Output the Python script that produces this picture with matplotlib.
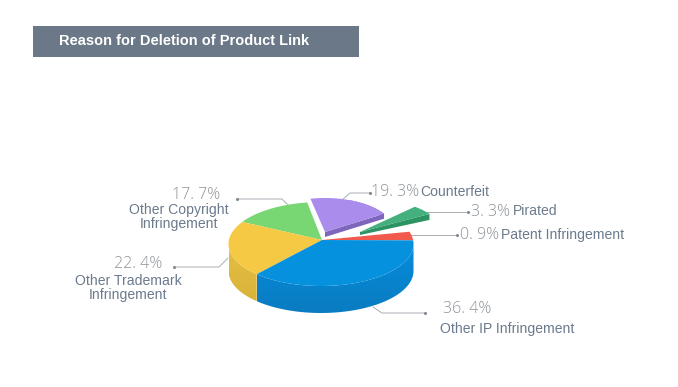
import numpy as np
import matplotlib
matplotlib.use("Agg")
import matplotlib.pyplot as plt
from matplotlib.patches import Polygon, Rectangle
from matplotlib.colors import LinearSegmentedColormap

# Data
categories = ["Other IP Infringement", "Other Trademark\nInfringement", "Other Copyright\nInfringement",
              "Counterfeit", "Pirated", "Patent Infringement"]
shares = [36.4, 22.4, 17.7, 19.3, 3.3, 0.9]
pct_labels = ["36. 4%", "22. 4%", "17. 7%", "19. 3%", "3. 3%", "0. 9%"]
title = "Reason for Deletion of Product Link"

W, H = 678, 387
fig = plt.figure(figsize=(W / 100, H / 100), dpi=100, facecolor="white")
ax = fig.add_axes([0, 0, 1, 1])
ax.axis("off")

CX, CY, RX, RY, DEPTH = 321, 244, 92.5, 42, 27
AX, AY = 322, 240  # apex of the slices on the drawn top face
top_cols = ["#0591de", "#f6c945", "#78d673", "#a98cec", "#43b07d", "#f1594c"]
side_cols = [("#058cdb", "#0a7cc2"), ("#e4bf42", "#d9b43a"), None, ("#9a80dc", "#7f66bd"), ("#36a06f", "#2c9363"), None]


def sector(cx, cy, rx, ry, a0, a1, apex=None):
    t = np.radians(np.linspace(a0, a1, 80))
    arc = np.column_stack([cx + rx * np.cos(t), cy + ry * np.sin(t)])
    return np.vstack([apex if apex is not None else [cx, cy], arc])


def wall(cx, cy, rx, ry, a0, a1, d):
    t = np.radians(np.linspace(a0, a1, 80))
    arc = np.column_stack([cx + rx * np.cos(t), cy + ry * np.sin(t)])
    return np.vstack([arc, arc[::-1] + [0, d]])


def grad_poly(xy, c0, c1, zorder):
    cmap = LinearSegmentedColormap.from_list("g", [c0, c1])
    x0, x1 = xy[:, 0].min(), xy[:, 0].max()
    y0, y1 = xy[:, 1].min(), xy[:, 1].max()
    im = ax.imshow(np.linspace(0, 1, 64).reshape(-1, 1), cmap=cmap, aspect="auto",
                   extent=[x0, x1, y1, y0], zorder=zorder, interpolation="bilinear")
    p = Polygon(xy, closed=True, transform=ax.transData, fc="none", ec="none")
    ax.add_patch(p)
    im.set_clip_path(p)


sweeps = [360 * s / 100 for s in shares]
# the perspective of the drawn pie shifts the slice borders a little
blue_start = -5
blue_end = sweeps[0] + 3
yellow_end = sweeps[0] + sweeps[1]
green_end = sweeps[0] + sweeps[1] + sweeps[2] - 14

# main body walls
grad_poly(wall(CX, CY, RX, RY, blue_end, 180, DEPTH), *side_cols[1], 2)
grad_poly(wall(CX, CY, RX, RY, 0, blue_end, DEPTH), *side_cols[0], 2)

# main body top
apex = [AX, AY]
ax.add_patch(Polygon(sector(CX, CY, RX, RY, 343, 355, apex), fc=top_cols[5], ec="none", zorder=3))
ax.add_patch(Polygon(sector(CX, CY, RX, RY, yellow_end, green_end, apex), fc=top_cols[2], ec="none", zorder=3))
ax.add_patch(Polygon(sector(CX, CY, RX, RY, blue_end, yellow_end, apex), fc=top_cols[1], ec="none", zorder=3))
ax.add_patch(Polygon(sector(CX, CY, RX, RY, blue_start, blue_end, apex), fc=top_cols[0], ec="none", zorder=3))

# Exploded: Counterfeit
pc, py, prx, pry, pa0 = 325, 232, 70, 34, 258
pa1 = pa0 + sweeps[3]
grad_poly(wall(pc, py, prx, pry, 290, pa1, 5), *side_cols[3], 4)
s = sector(pc, py, prx, pry, pa0, pa1)
e = np.array([s[-1], s[-1] + [0, 5], [pc, py + 5], [pc, py]])
ax.add_patch(Polygon(e, fc=side_cols[3][1], ec="none", zorder=4))
ax.add_patch(Polygon(s, fc=top_cols[3], ec="none", zorder=5))

# Exploded: Pirated
gc, gy, grx, gry, ga0 = 360, 232, 82, 34, 312
ga1 = ga0 + sweeps[4] + 4
s2 = sector(gc, gy, grx, gry, ga0, ga1)
e2 = np.array([s2[-1], s2[-1] + [0, 6], [gc, gy + 3], [gc, gy]])
ax.add_patch(Polygon(e2, fc=side_cols[4][1], ec="none", zorder=4))
ax.add_patch(Polygon(s2, fc=top_cols[4], ec="none", zorder=5))

# Leader lines
leaders = [
    [(373, 307), (382, 313), (425, 313)],
    [(228, 258), (219, 267), (174, 267)],
    [(289, 206), (282, 199), (237, 199)],
    [(342, 200), (350, 193), (370, 193)],
    [(423, 212), (468, 212)],
    [(410, 235), (457, 235)],
]
for pts in leaders:
    xs, ys = zip(*pts)
    ax.plot(xs, ys, color="#a9aeb3", lw=0.7, zorder=1, solid_capstyle="round")
    ax.plot(xs[-1], ys[-1], "o", ms=1.2, color="#808890", zorder=1)

# Text
NAME = dict(color="#6b7a8c", family="Liberation Sans", fontsize=10.05, zorder=6)
PCT = dict(color="#8f9499", family="Open Sans", fontsize=11.5, fontweight="light", zorder=6)
ax.text(443, 309, pct_labels[0], ha="left", va="center", **PCT)
ax.text(440, 329, categories[0], ha="left", va="center", **NAME)
ax.text(114, 264, pct_labels[1], ha="left", va="center", **PCT)
ax.text(128, 288, categories[1], ha="center", va="center", linespacing=1.05, **NAME)
ax.text(172, 195, pct_labels[2], ha="left", va="center", **PCT)
ax.text(179, 217, categories[2], ha="center", va="center", linespacing=1.05, **NAME)
ax.text(371, 192, pct_labels[3], ha="left", va="center", **PCT)
ax.text(420, 192, categories[3], ha="left", va="center", **NAME)
ax.text(471, 212, pct_labels[4], ha="left", va="center", **PCT)
ax.text(513, 211, categories[4], ha="left", va="center", **NAME)
ax.text(460, 235, pct_labels[5], ha="left", va="center", **PCT)
ax.text(501, 235, categories[5], ha="left", va="center", **NAME)

# Title band
ax.add_patch(Rectangle((33, 26), 326, 31, fc="#6b7887", ec="none", zorder=1))
ax.text(59, 41, title, color="white", fontsize=10.5, fontweight="bold", family="Liberation Sans",
        ha="left", va="center", zorder=6)

ax.set_xlim(0, W)
ax.set_ylim(H, 0)
fig.savefig("out.png", dpi=100, facecolor="white")
